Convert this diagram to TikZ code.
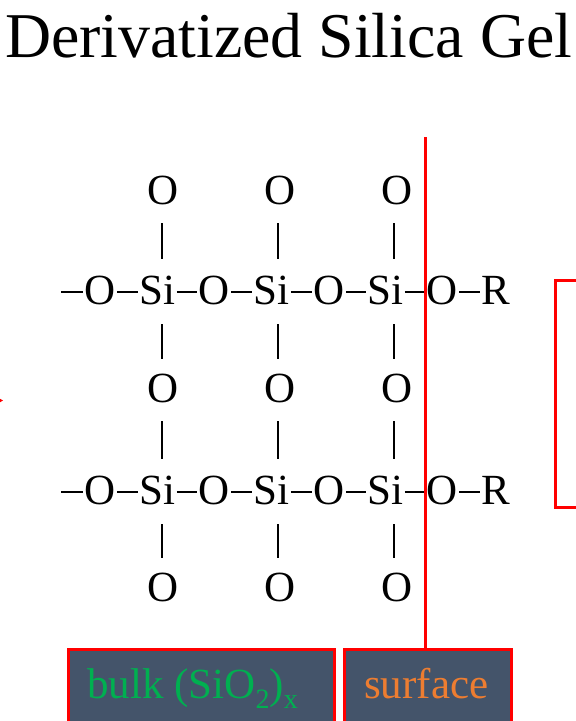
\documentclass[tikz,border=0pt]{standalone}
\usepackage{fontspec}
\setmainfont{Liberation Serif}
\definecolor{panelblue}{HTML}{44546A}
\definecolor{bulkgreen}{HTML}{00B050}
\definecolor{surforange}{HTML}{ED7D31}
\newcommand{\lowtxt}[1]{\raisebox{-10pt}{\fontsize{28}{30}\selectfont #1}}
\tikzset{
  atom/.style={inner xsep=1.5pt,inner ysep=0pt,outer sep=0pt,text height=28pt,text depth=4pt,font=\fontsize{43}{50}\selectfont,text=black},
  bond/.style={draw=black,line width=1.7pt},
  redline/.style={draw=red,line width=3pt},
  panel/.style={draw=red,line width=3pt,fill=panelblue,anchor=north west,inner sep=0pt,outer sep=0pt,minimum height=120pt},
  frameonly/.style={draw=red,line width=3pt,anchor=north west,inner sep=0pt,outer sep=0pt},
  caption/.style={anchor=base west,inner sep=0pt,font=\fontsize{43}{50}\selectfont},
}
\begin{document}
\begin{tikzpicture}[x=1pt,y=-1pt]
\clip (0,0) rectangle (576,721);
\node[anchor=base west,inner sep=0pt,font=\fontsize{63.8}{70}\selectfont] (title) at (5,57) {Derivatized Silica Gel};
% columns for the vertical bonds
\coordinate (b1) at (162,0);
\coordinate (b2) at (278,0);
\coordinate (b3) at (394,0);
% oxygen rows
\foreach \r/\y in {t/192,m/390,b/589}{
  \node[atom] (o\r1) at (163,\y) {O};
  \node[atom] (o\r2) at (280,\y) {O};
  \node[atom] (o\r3) at (397,\y) {O};
}
% chain rows
\foreach \r/\y in {a/292,c/492}{
  \coordinate (start\r) at (61,\y);
  \node[atom] (l\r0) at (100,\y) {O};
  \node[atom] (si\r1) at (157.5,\y) {Si};
  \node[atom] (l\r1) at (214,\y) {O};
  \node[atom] (si\r2) at (271.5,\y) {Si};
  \node[atom] (l\r2) at (329,\y) {O};
  \node[atom] (si\r3) at (385.5,\y) {Si};
  \node[atom] (l\r3) at (442,\y) {O};
  \node[atom] (R\r) at (496,\y) {R};
  \draw[bond] (start\r) -- (l\r0);
  \draw[bond] (l\r0) -- (si\r1);
  \draw[bond] (si\r1) -- (l\r1);
  \draw[bond] (l\r1) -- (si\r2);
  \draw[bond] (si\r2) -- (l\r2);
  \draw[bond] (l\r2) -- (si\r3);
  \draw[bond] (si\r3) -- (l\r3);
  \draw[bond] (l\r3) -- (R\r);
}
% vertical bonds
\foreach \c in {1,2,3}{
  \draw[bond,shorten >=17pt,shorten <=15pt] (ot\c.south -| b\c) -- (sia\c.north -| b\c);
  \draw[bond,shorten >=15pt,shorten <=16pt] (sia\c.south -| b\c) -- (om\c.north -| b\c);
  \draw[bond,shorten >=17pt,shorten <=15pt] (om\c.south -| b\c) -- (sic\c.north -| b\c);
  \draw[bond,shorten >=15pt,shorten <=16pt] (sic\c.south -| b\c) -- (ob\c.north -| b\c);
}
% panels
\node[panel,minimum width=266.5pt] (bulkbox) at (68,649) {};
\node[panel,minimum width=167.5pt] (surfbox) at (344,649) {};
\node[caption,text=bulkgreen] (bulktext) at (87,698.5) {bulk (SiO\lowtxt{2})\lowtxt{x}};
\node[caption,text=surforange] (surftext) at (364,698.5) {surface};
% red divider
\coordinate (rtop) at (425,137);
\draw[redline] (rtop) -- (surfbox.north -| rtop);
% red frame running off the right edge
\node[frameonly,minimum width=60pt,minimum height=227pt] (rframe) at (555,280) {};
% red tip at the left edge
\coordinate (tipa) at (-3,397);
\coordinate (tipb) at (3,400.5);
\coordinate (tipc) at (-3,404);
\fill[red] (tipa) -- (tipb) -- (tipc) -- cycle;
\end{tikzpicture}
\end{document}
